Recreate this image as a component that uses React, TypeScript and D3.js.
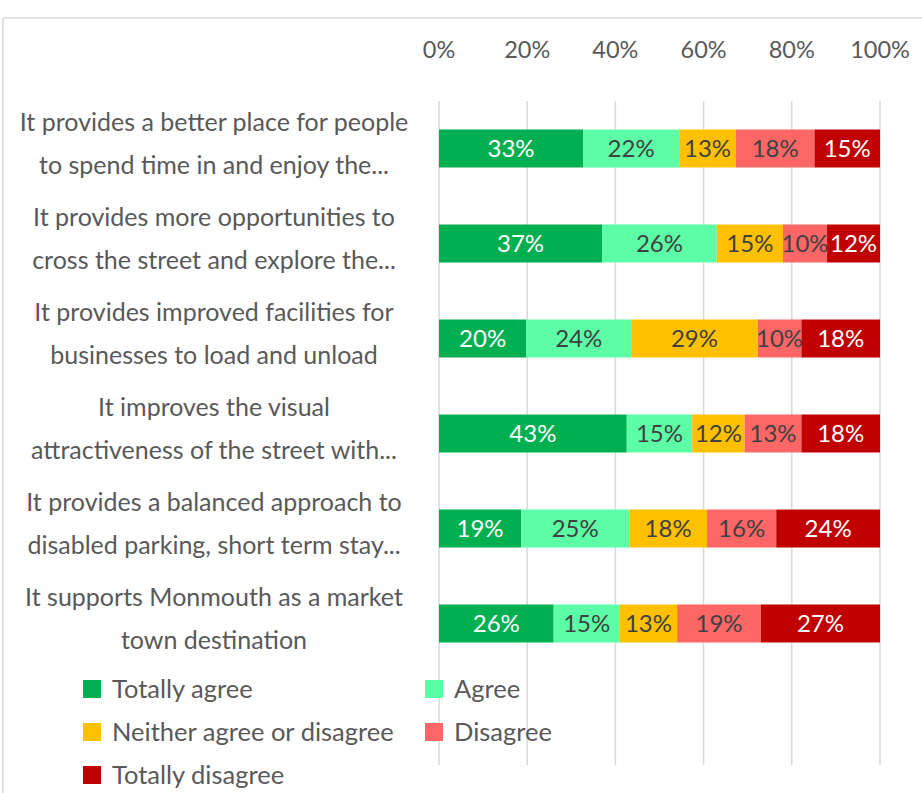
import React from "react";
import * as d3 from "d3";

const categories: string[][] = [
  ["It provides a better place for people", "to spend time in and enjoy the..."],
  ["It provides more opportunities to", "cross the street and explore the..."],
  ["It provides improved facilities for", "businesses to load and unload"],
  ["It improves the visual", "attractiveness of the street with..."],
  ["It provides a balanced approach to", "disabled parking, short term stay..."],
  ["It supports Monmouth as a market", "town destination"],
];
const seriesNames = ["Totally agree", "Agree", "Neither agree or disagree", "Disagree", "Totally disagree"];
const totallyAgree = [33, 37, 20, 43, 19, 26];
const agree = [22, 26, 24, 15, 25, 15];
const neither = [13, 15, 29, 12, 18, 13];
const disagree = [18, 10, 10, 13, 16, 19];
const totallyDisagree = [15, 12, 18, 18, 24, 27];
const ticks = [0, 0.2, 0.4, 0.6, 0.8, 1];

const colors = ["#00B050", "#5CFFA6", "#FFC000", "#FF6666", "#C00000"];
const labelColors = ["#ffffff", "#404040", "#404040", "#404040", "#ffffff"];
const FONT = "Lato, 'Open Sans', sans-serif";

export default function App() {
  const W = 922, H = 793;
  const seriesVals = [totallyAgree, agree, neither, disagree, totallyDisagree];
  const rows = categories.map((_, i) => {
    const o: Record<string, number> = { idx: i };
    seriesNames.forEach((s, k) => (o[s] = seriesVals[k][i]));
    return o;
  });
  const stack = d3.stack<Record<string, number>>().keys(seriesNames).offset(d3.stackOffsetExpand);
  const stacked = stack(rows);

  const x = d3.scaleLinear().domain([0, 1]).range([439, 880]);
  const y = d3.scaleBand<number>().domain(categories.map((_, i) => i)).range([101, 671]).paddingInner(0.6).paddingOuter(0.3);
  const bh = y.bandwidth();

  const legendItems = [
    { k: 0, x: 83, y: 689 },
    { k: 1, x: 425, y: 689 },
    { k: 2, x: 83, y: 732 },
    { k: 3, x: 425, y: 732 },
    { k: 4, x: 83, y: 775 },
  ];

  return (
    <svg width={W} height={H} style={{ position: "absolute", left: 0, top: 0, background: "#fff" }} fontFamily={FONT}>
      <rect x={0} y={0} width={W} height={H} fill="#fff" />
      <line x1={3} x2={W} y1={18} y2={18} stroke="#d9d9d9" strokeWidth={1.5} />
      <line x1={3} x2={3} y1={18} y2={H} stroke="#d9d9d9" strokeWidth={1.5} />
      {ticks.map((t) => (
        <g key={t}>
          <line x1={x(t)} x2={x(t)} y1={101} y2={765} stroke="#d9d9d9" strokeWidth={1.5} />
          <text x={x(t)} y={49} textAnchor="middle" dominantBaseline="central" fontSize={23.5} fill="#595959">
            {d3.format(".0%")(t)}
          </text>
        </g>
      ))}
      {categories.map((lines, i) => {
        const cy = (y(i) as number) + bh / 2;
        return (
          <g key={i}>
            <text x={214} y={cy - 28} textAnchor="middle" dominantBaseline="central" fontSize={25} fill="#595959">{lines[0]}</text>
            <text x={214} y={cy + 15} textAnchor="middle" dominantBaseline="central" fontSize={25} fill="#595959">{lines[1]}</text>
          </g>
        );
      })}
      {stacked.map((s, k) => (
        <g key={s.key}>
          {s.map((d, i) => {
            const x0 = x(d[0]), x1 = x(d[1]);
            const yy = y(i) as number;
            return (
              <g key={i}>
                <rect x={x0} y={yy} width={x1 - x0} height={bh} fill={colors[k]} />
                <text x={(x0 + x1) / 2} y={yy + bh / 2 - 1.5} textAnchor="middle" dominantBaseline="central" fontSize={24} fill={labelColors[k]}>
                  {seriesVals[k][i] + "%"}
                </text>
              </g>
            );
          })}
        </g>
      ))}
      {legendItems.map((it) => (
        <g key={it.k}>
          <rect x={it.x} y={it.y - 9} width={18} height={18} fill={colors[it.k]} />
          <text x={it.x + 29} y={it.y - 1} dominantBaseline="central" fontSize={25.5} fill="#595959">{seriesNames[it.k]}</text>
        </g>
      ))}
    </svg>
  );
}
